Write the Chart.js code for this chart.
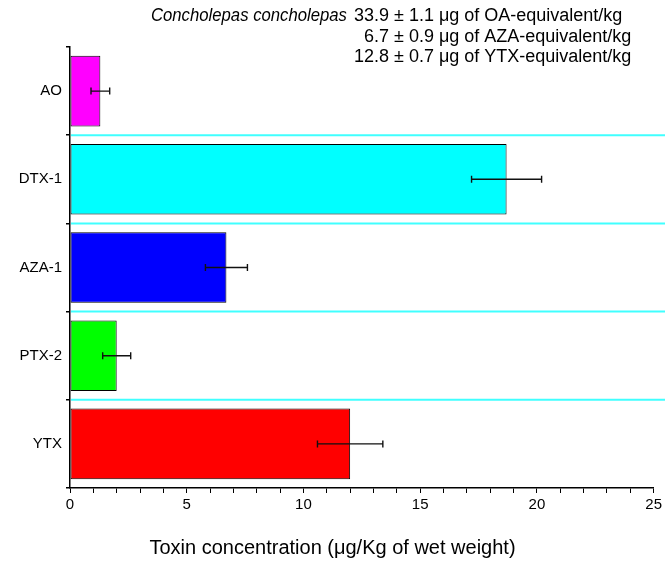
<!DOCTYPE html>
<html>
<head>
<meta charset="utf-8">
<script src="https://cdn.jsdelivr.net/npm/chart.js@4.4.1/dist/chart.umd.min.js"></script>
<style>
  html, body { margin: 0; padding: 0; background: #fff; }
  #wrap { width: 665px; height: 562px; }
</style>
</head>
<body>
<div id="wrap"><canvas id="chart" width="665" height="562"></canvas></div>
<script>
// Toxin profile of Concholepas concholepas (mean ± SD, µg/kg wet weight)
const toxins = ['AO', 'DTX-1', 'AZA-1', 'PTX-2', 'YTX'];
const concentration = [1.3, 18.7, 6.7, 2.0, 12.0];
const errorSD = [0.4, 1.5, 0.9, 0.6, 1.4];
const barColors = ['#FF00FF', '#00FFFF', '#0000FF', '#00FF00', '#FF0000'];
const xTickValues = [0, 5, 10, 15, 20, 25];
const xTitle = 'Toxin concentration (\u03BCg/Kg of wet weight)';

// Toxic equivalents printed above the plot
const species = 'Concholepas concholepas';
const eqValues = ['33.9', '6.7', '12.8'];
const eqErrors = ['1.1', '0.9', '0.7'];
const eqNames = ['OA', 'AZA', 'YTX'];

const FONT = '"Liberation Sans", Arial, Helvetica, sans-serif';

// Light cyan separators between categories, running to the canvas edge
const separators = {
  id: 'separators',
  beforeDatasetsDraw(chart) {
    const ys = chart.scales.y;
    const ctx = chart.ctx;
    ctx.save();
    ctx.strokeStyle = 'rgba(0,255,255,0.75)';
    ctx.lineWidth = 2;
    for (let i = 1; i < toxins.length; i++) {
      const y = (ys.getPixelForValue(i - 1) + ys.getPixelForValue(i)) / 2;
      ctx.beginPath();
      ctx.moveTo(chart.chartArea.left + 1, y);
      ctx.lineTo(chart.width, y);
      ctx.stroke();
    }
    ctx.restore();
  }
};

// Horizontal error bars with end caps
const errorBars = {
  id: 'errorBars',
  afterDatasetsDraw(chart) {
    const xs = chart.scales.x;
    const meta = chart.getDatasetMeta(0);
    const ctx = chart.ctx;
    ctx.save();
    ctx.strokeStyle = '#111';
    ctx.lineWidth = 1.4;
    meta.data.forEach((bar, i) => {
      const y = bar.y;
      const x1 = xs.getPixelForValue(concentration[i] - errorSD[i]);
      const x2 = xs.getPixelForValue(concentration[i] + errorSD[i]);
      const cap = 3.5;
      ctx.beginPath();
      ctx.moveTo(x1, y); ctx.lineTo(x2, y);
      ctx.moveTo(x1, y - cap); ctx.lineTo(x1, y + cap);
      ctx.moveTo(x2, y - cap); ctx.lineTo(x2, y + cap);
      ctx.stroke();
    });
    ctx.restore();
  }
};

// Header block (species name and toxic-equivalent totals) and the x-axis title,
// which is centred on the whole figure rather than on the plot area
const annotations = {
  id: 'annotations',
  afterDraw(chart) {
    const ctx = chart.ctx;
    ctx.save();
    ctx.fillStyle = '#000';
    ctx.textBaseline = 'alphabetic';
    const numRight = 389;
    const baselines = [21, 42, 62];
    const size = 18;
    eqValues.forEach((v, i) => {
      ctx.font = `${size}px ${FONT}`;
      ctx.textAlign = 'right';
      ctx.fillText(v, numRight, baselines[i]);
      ctx.textAlign = 'left';
      ctx.fillText(` \u00B1 ${eqErrors[i]} \u03BCg of ${eqNames[i]}-equivalent/kg`, numRight, baselines[i]);
    });
    ctx.font = `${size}px ${FONT}`;
    const firstNumWidth = ctx.measureText(eqValues[0]).width;
    ctx.font = `italic ${size}px ${FONT}`;
    ctx.textAlign = 'right';
    ctx.fillText(species, numRight - firstNumWidth - 7, baselines[0], 196);

    ctx.font = `20px ${FONT}`;
    ctx.textAlign = 'center';
    ctx.textBaseline = 'middle';
    ctx.fillText(xTitle, chart.width / 2, 548);
    ctx.restore();
  }
};

new Chart(document.getElementById('chart'), {
  type: 'bar',
  data: {
    labels: toxins,
    datasets: [{
      data: concentration,
      backgroundColor: barColors,
      borderColor: '#000',
      borderWidth: 1,
      borderSkipped: false,
      categoryPercentage: 0.8,
      barPercentage: 1.0
    }]
  },
  options: {
    indexAxis: 'y',
    responsive: false,
    maintainAspectRatio: false,
    animation: false,
    layout: { padding: { top: 47, right: 11, left: 0, bottom: 0 } },
    plugins: {
      legend: { display: false },
      tooltip: { enabled: false },
      title: { display: false }
    },
    scales: {
      x: {
        type: 'linear',
        min: 0,
        max: 25,
        afterFit(scale) { scale.height = 74; },
        border: { display: true, color: '#000', width: 1.5 },
        grid: { drawOnChartArea: false, drawTicks: true, tickLength: 5, color: '#000', lineWidth: 1 },
        ticks: {
          stepSize: 1,
          autoSkip: false,
          maxRotation: 0,
          padding: 3,
          color: '#000',
          font: { family: FONT, size: 15 },
          callback: (v) => xTickValues.includes(v) ? String(v) : ''
        },
        title: { display: false }
      },
      y: {
        type: 'category',
        offset: true,
        afterFit(scale) { scale.width = 70; },
        border: { display: true, color: '#000', width: 1.5 },
        grid: { offset: true, drawOnChartArea: false, drawTicks: true, tickLength: 4, color: '#000', lineWidth: 1.5 },
        ticks: {
          padding: 4,
          color: '#000',
          font: { family: FONT, size: 15 }
        }
      }
    }
  },
  plugins: [separators, errorBars, annotations]
});
</script>
</body>
</html>
